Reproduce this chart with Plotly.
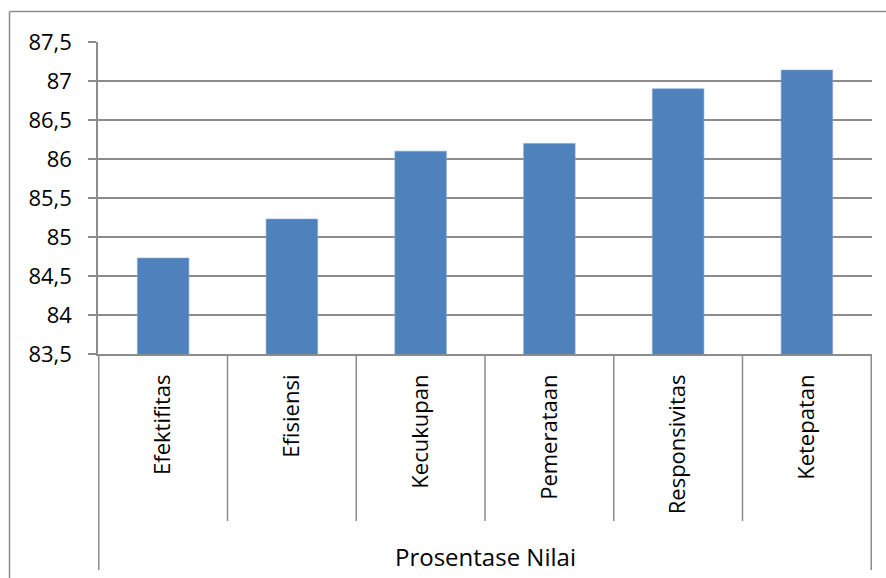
import plotly.graph_objects as go

categories = ["Efektifitas", "Efisiensi", "Kecukupan", "Pemerataan", "Responsivitas", "Ketepatan"]
values = [84.73, 85.23, 86.10, 86.20, 86.90, 87.14]
group_label = "Prosentase Nilai"
y_range = [83.5, 87.5]

GRID = "#8c8c8c"
FONT = "Open Sans"

fig = go.Figure()
fig.add_trace(go.Bar(
    x=categories, y=values,
    marker=dict(color="#4F81BD", line=dict(color="#7fa3d0", width=0.6)),
    width=0.4,
))

W, H = 886, 578
L, R, T, B = 98, 14, 42, 224
pw, ph = W - L - R, H - T - B

def px_to_paper_y(py):
    return (H - B - py) / ph

def px_to_paper_x(px):
    return (px - L) / pw

shapes = []
n = len(categories)
for i in range(n + 1):
    xb = i - 0.5
    bottom = 570 if i in (0, n) else 521
    shapes.append(dict(type="line", xref="x", yref="paper", x0=xb, x1=xb,
                       y0=0, y1=px_to_paper_y(bottom), line=dict(color=GRID, width=1.5)))
# outer chart border (left and top)
shapes.append(dict(type="line", xref="paper", yref="paper",
                   x0=px_to_paper_x(9.5), x1=px_to_paper_x(9.5),
                   y0=px_to_paper_y(11.5), y1=px_to_paper_y(590), line=dict(color=GRID, width=1.5)))
shapes.append(dict(type="line", xref="paper", yref="paper",
                   x0=px_to_paper_x(9.5), x1=px_to_paper_x(900),
                   y0=px_to_paper_y(11.5), y1=px_to_paper_y(11.5), line=dict(color=GRID, width=1.5)))

fig.update_layout(
    width=W, height=H,
    margin=dict(l=L, r=R, t=T, b=B, autoexpand=False),
    paper_bgcolor="white", plot_bgcolor="white",
    separators=", ",
    showlegend=False,
    font=dict(family=FONT, color="#000000"),
    shapes=shapes,
    annotations=[dict(text=group_label, xref="paper", yref="paper",
                      x=0.5, y=px_to_paper_y(556), xanchor="center", yanchor="middle",
                      showarrow=False, font=dict(family=FONT, size=24, color="#000000"))],
)
fig.update_xaxes(
    type="category", tickangle=-90, ticks="",
    showline=True, linecolor=GRID, linewidth=1.5,
    showgrid=False, tickfont=dict(family=FONT, size=22, color="#000000"),
    ticklabelstandoff=10,
)
fig.update_yaxes(
    range=y_range, dtick=0.5, tick0=83.5,
    showgrid=True, gridcolor=GRID, gridwidth=1.5,
    showline=True, linecolor=GRID, linewidth=1.5,
    ticks="outside", ticklen=8, tickcolor=GRID, tickwidth=1.5,
    tickfont=dict(family=FONT, size=22, color="#000000"),
    ticklabelstandoff=12,
    zeroline=False,
)

fig.write_html("out.html")
